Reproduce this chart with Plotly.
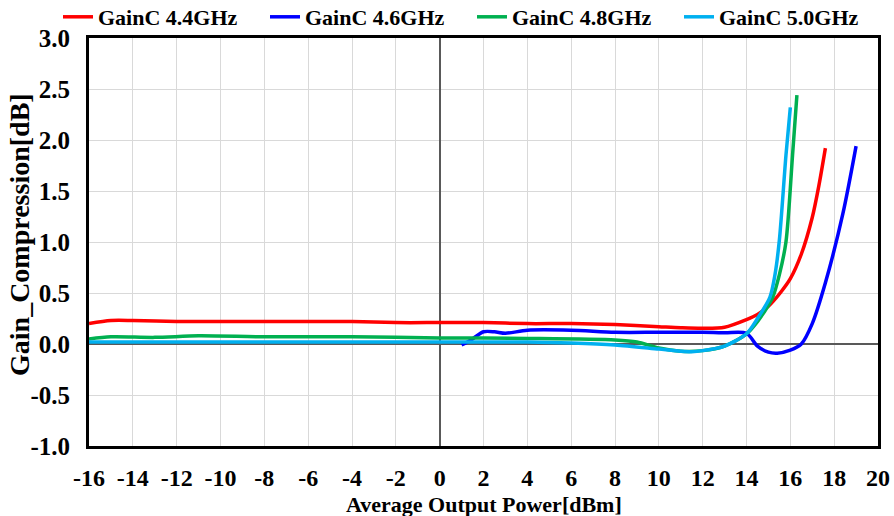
import plotly.graph_objects as go

x_44 = [-16, -15, -14, -12, -10, -8, -6, -4, -2, 0, 2, 4, 6, 8, 10, 11, 12, 13, 14, 14.5, 15, 15.5, 16, 16.5, 17, 17.3, 17.6]
y_44 = [0.20, 0.23, 0.23, 0.22, 0.22, 0.22, 0.22, 0.22, 0.21, 0.21, 0.21, 0.20, 0.20, 0.19, 0.17, 0.16, 0.155, 0.165, 0.24, 0.29, 0.37, 0.49, 0.64, 0.88, 1.24, 1.55, 1.92]

x_46 = [1.0, 1.5, 2.0, 2.5, 3.0, 4, 6, 8, 10, 12, 13, 14, 14.5, 15, 15.4, 16, 16.5, 17, 17.6, 18.4, 19.0]
y_46 = [-0.01, 0.05, 0.12, 0.12, 0.105, 0.135, 0.135, 0.115, 0.115, 0.115, 0.11, 0.105, -0.02, -0.08, -0.09, -0.06, 0.0, 0.20, 0.60, 1.28, 1.94]

x_48 = [-16, -15, -13, -11, -8, -4, 0, 4, 8, 9, 10, 11, 12, 13, 14, 14.5, 15, 15.2, 15.5, 15.8, 16.1, 16.3]
y_48 = [0.05, 0.07, 0.065, 0.08, 0.07, 0.07, 0.06, 0.055, 0.04, 0.02, -0.04, -0.07, -0.065, -0.02, 0.10, 0.22, 0.38, 0.46, 0.68, 1.00, 1.85, 2.44]

x_50 = [-16, -12, -8, -4, 0, 4, 6, 8, 10, 11, 11.5, 12, 13, 14, 14.5, 15.07, 15.3, 15.5, 15.8, 16.0]
y_50 = [0.02, 0.02, 0.02, 0.02, 0.02, 0.02, 0.01, -0.01, -0.05, -0.07, -0.075, -0.065, -0.02, 0.10, 0.25, 0.46, 0.68, 1.02, 1.85, 2.32]

series = [
    ("GainC 4.4GHz", x_44, y_44, "#ff0000"),
    ("GainC 4.6GHz", x_46, y_46, "#0000ff"),
    ("GainC 4.8GHz", x_48, y_48, "#00b050"),
    ("GainC 5.0GHz", x_50, y_50, "#00b0f0"),
]

x_ticks = list(range(-16, 21, 2))
y_ticks = [-1.0, -0.5, 0.0, 0.5, 1.0, 1.5, 2.0, 2.5, 3.0]
x_title = "Average Output Power[dBm]"
y_title = "Gain_Compression[dB]"

FONT = "Liberation Serif"
L, R, T, B = 89, 16, 38, 70
W, H = 894, 516
PW, PH = W - L - R, H - T - B

fig = go.Figure()
for name, xs, ys, col in series:
    fig.add_trace(go.Scatter(x=xs, y=ys, name=name, mode="lines",
                             line=dict(color=col, width=3.5, shape="spline", smoothing=0.8)))

fig.update_layout(
    width=W, height=H,
    margin=dict(l=L, r=R, t=T, b=B, autoexpand=False),
    paper_bgcolor="white", plot_bgcolor="white",
    font=dict(family=FONT, color="black"),
    showlegend=True,
    legend=dict(orientation="h", x=(58 - L) / PW, xanchor="left",
                y=1 + (T - 17) / PH, yanchor="middle",
                font=dict(family=FONT, size=22, color="black", weight="bold"),
                entrywidth=162, entrywidthmode="pixels",
                bgcolor="rgba(0,0,0,0)", borderwidth=0),
)
fig.update_xaxes(
    range=[-16, 20], tickvals=x_ticks, ticktext=[str(v) for v in x_ticks],
    showgrid=True, gridcolor="#d9d9d9", gridwidth=1,
    zeroline=True, zerolinecolor="#595959", zerolinewidth=1.5,
    showline=True, linecolor="black", linewidth=3, mirror=True,
    ticks="", ticklabelstandoff=8,
    tickfont=dict(family=FONT, size=24, color="black", weight="bold"),
)
fig.update_yaxes(
    range=[-1, 3], tickvals=y_ticks, ticktext=[f"{v:.1f}" for v in y_ticks],
    showgrid=True, gridcolor="#d9d9d9", gridwidth=1,
    zeroline=True, zerolinecolor="#595959", zerolinewidth=1.5,
    showline=True, linecolor="black", linewidth=3, mirror=True,
    ticks="", ticklabelstandoff=11,
    tickfont=dict(family=FONT, size=25, color="black", weight="bold"),
)
fig.add_annotation(text=x_title, xref="paper", yref="paper",
                   x=0.5, y=-(504 - (H - B)) / PH, xanchor="center", yanchor="middle",
                   showarrow=False,
                   font=dict(family=FONT, size=22, color="black", weight="bold"))
fig.add_annotation(text=y_title, xref="paper", yref="paper", textangle=-90,
                   x=(20 - L) / PW, y=(H - B - 235) / PH, xanchor="center", yanchor="middle",
                   showarrow=False,
                   font=dict(family=FONT, size=28, color="black", weight="bold"))

fig.write_html("out.html")
